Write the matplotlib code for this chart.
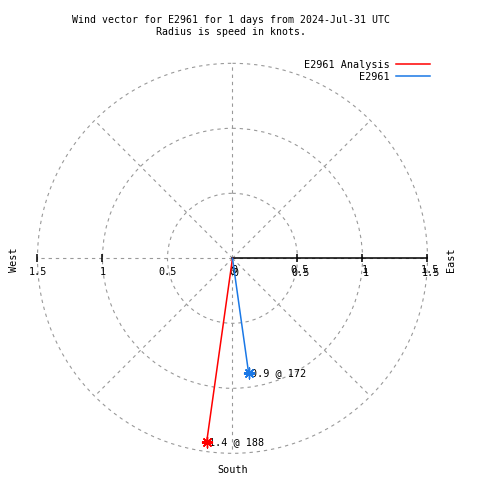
import numpy as np
import matplotlib
matplotlib.use("Agg")
import matplotlib.pyplot as plt
import matplotlib.transforms as mtransforms

# wind vectors: speed in knots, direction in compass degrees
names = ["E2961 Analysis", "E2961"]
speeds = [1.43, 0.89]
directions = [188, 172]
colors = ["#ff0000", "#1a78e6"]

r_grid = [0.5, 1.0, 1.5]
r_ticklabels = ["0", "0.5", "1", "1.5"]
r_tickvals = [0, 0.5, 1.0, 1.5]

plt.rcParams['font.family'] = ['DejaVu Sans Mono']
plt.rcParams['font.size'] = 7.3

fig = plt.figure(figsize=(4.8, 4.8), dpi=100)
ax = fig.add_axes([0.0781, 0.0556, 0.8125, 0.8125], projection="polar")
ax.set_theta_zero_location("N")
ax.set_theta_direction(-1)
ax.set_ylim(0, 1.5)
ax.set_rgrids(r_grid, labels=[])
ax.set_thetagrids(range(0, 360, 45), labels=[])
ax.grid(True, color="#999999", linestyle=(0, (3, 3.5)), linewidth=0.8)
for gl in ax.yaxis.get_gridlines():
    gl.set_clip_on(False)
ax.spines["polar"].set_visible(False)
ax.tick_params(length=0)
ax.set_facecolor("none")

east = np.pi / 2
west = 3 * np.pi / 2

# black radius axis to the east, with ticks
ax.plot([east, east], [0, 1.5], color="black", lw=1.1, zorder=3, clip_on=False)
ax.plot([east] * 3, r_grid, ls="none", marker="|", ms=6, mew=1.1, color="black", zorder=3, clip_on=False)
ax.plot([west] * 2, r_grid[1:], ls="none", marker="|", ms=6, mew=1.1, color="black", zorder=3, clip_on=False)

# tick labels below the horizontal axis (east side is drawn twice, as in the original)
for lab, v in zip(r_ticklabels, r_tickvals):
    off = mtransforms.offset_copy(ax.transData, fig=fig, x=0, y=-14, units="dots")
    ax.text(west, v, lab, transform=off, ha="center", va="center")
    off1 = mtransforms.offset_copy(ax.transData, fig=fig, x=2, y=-12, units="dots")
    off2 = mtransforms.offset_copy(ax.transData, fig=fig, x=3, y=-15, units="dots")
    ax.text(east, v, lab, transform=off1, ha="center", va="center")
    ax.text(east, v, lab, transform=off2, ha="center", va="center")

# wind vectors
handles = []
for name, s, d, c in zip(names, speeds, directions, colors):
    th = np.deg2rad(d)
    ln, = ax.plot([th, th], [0, s], color=c, lw=1.1, label=name, zorder=4)
    ax.plot([th], [s], marker=(8, 2, 0), ms=8, mew=1, color=c, zorder=5)
    off = mtransforms.offset_copy(ax.transData, fig=fig, x=2, y=0, units="dots")
    ax.text(th, s, "{:.1f} @ {:.0f}".format(s, d), transform=off, ha="left", va="center")
    handles.append(ln)

fig.legend(handles=handles, loc="upper right", bbox_to_anchor=(0.915, 0.895),
           frameon=False, markerfirst=False, handlelength=3.4, handletextpad=0.6,
           labelspacing=0.2, fontsize=7.3)

fig.text(231 / 480, 0.946, "Wind vector for E2961 for 1 days from 2024-Jul-31 UTC\nRadius is speed in knots.",
         ha="center", va="center", linespacing=1.25, fontsize=7.1)
fig.text(14 / 480, 1 - 260 / 480, "West", rotation=90, ha="center", va="center")
fig.text(451 / 480, 1 - 260 / 480, "East", rotation=90, ha="center", va="center")
fig.text(233 / 480, 1 - 470 / 480, "South", ha="center", va="center")

fig.savefig("out.png", dpi=100)
